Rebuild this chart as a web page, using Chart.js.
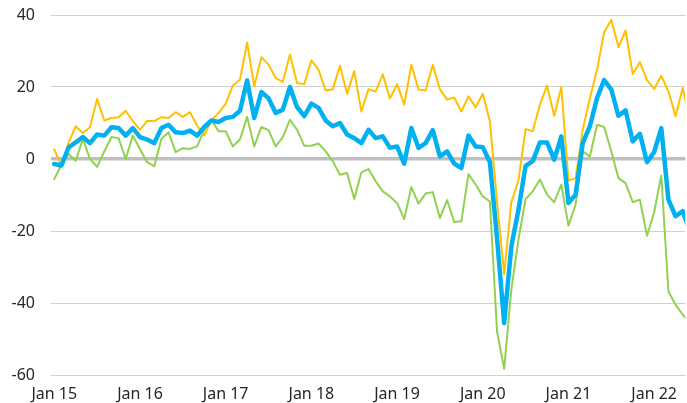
<!DOCTYPE html>
<html>
<head>
<meta charset="utf-8">
<script src="https://cdn.jsdelivr.net/npm/chart.js@4/dist/chart.umd.min.js"></script>
<style>
  html, body { margin: 0; padding: 0; background: #fff; }
  #wrap { width: 687px; height: 403px; }
</style>
</head>
<body>
<div id="wrap"><canvas id="line-chart" width="687" height="403"></canvas></div>
<script>
// monthly values, Jan 15 = month 0
const seriesGold = [
  2.7, -2, 4.5, 9.1, 7.2, 8.8, 16.7, 10.7, 11.4, 11.6, 13.4, 10.5,
  8.1, 10.6, 10.5, 11.6, 11.4, 13, 11.7, 13, 9.3, 6.5, 10.7, 12.8,
  15.3, 20.4, 22, 32.4, 20.2, 28.3, 26.2, 22.5, 21.4, 29, 21.1, 20.8,
  27.4, 24.8, 19, 19.4, 25.9, 18.1, 24.4, 13.2, 19.4, 18.7, 23.5, 16.8,
  20.8, 15.1, 26.2, 19.3, 19, 26.2, 19.4, 16.5, 17.1, 13.2, 17.4, 14.4,
  18.1, 10.5, -12, -32, -12, -5.9, 8.3, 7.7, 15.1, 20.4, 12, 20,
  -6, -5.3, 8.1, 16.9, 24.8, 35.2, 38.7, 31.1, 35.7, 23.6, 26.9, 21.9,
  19.5, 23.1, 18.8, 11.9, 19.7, 11
];
const seriesBlue = [
  -1.4, -1.8, 3.2, 4.6, 6.1, 4.4, 6.8, 6.5, 8.8, 8.6, 6.5, 8.6,
  6.1, 5.4, 4.4, 8.6, 9.5, 7.4, 7.2, 7.9, 6.5, 8.9, 10.7, 10.3,
  11.4, 11.7, 13.4, 21.8, 11.4, 18.6, 16.9, 12.8, 13.7, 20, 14.4, 11.9,
  15.4, 14.2, 10.7, 9.1, 10, 6.8, 5.8, 4.4, 8.1, 5.8, 6.3, 3.1,
  3.5, -1.3, 8.6, 3.1, 4.4, 8, 0.7, 2.1, -1.3, -2.5, 6.5, 3.5,
  3.3, -0.9, -22, -45.6, -24.3, -14.1, -1.9, -0.6, 4.6, 4.6, -0.2, 6.3,
  -12.2, -9.9, 4.4, 9.1, 16.9, 21.9, 19.3, 12, 13.5, 4.9, 7, -0.9,
  1.9, 8.6, -11.3, -15.9, -14.5, -20
];
const seriesGreen = [
  -5.6, -1.6, 1.4, -0.5, 5.6, 0, -2.2, 2.1, 6.1, 5.8, 0, 6.5,
  2.8, -0.9, -2, 5.6, 7.4, 1.9, 3, 2.8, 3.5, 8.1, 10.9, 7.7,
  7.7, 3.5, 5.4, 11.7, 3.5, 8.9, 8, 3.5, 6.1, 10.9, 8.1, 3.7,
  3.7, 4.3, 2.1, -0.6, -4.4, -3.9, -11.1, -3.7, -2.8, -6.2, -9, -10.4,
  -12.2, -16.7, -7.8, -12.4, -9.6, -9.2, -16.4, -11.4, -17.5, -17.3, -4.2, -7.1,
  -10.4, -11.8, -47.9, -58.3, -36.3, -22.4, -11.1, -9, -5.7, -9.9, -12, -7.1,
  -18.5, -12.7, 2.1, 0.7, 9.5, 8.9, 2.1, -5.3, -6.7, -12, -11.3, -21.3,
  -14.8, -4.6, -36.8, -40.5, -43.2, -45.5
];

// x axis tick labels (one per January)
const tickMonths = [0, 12, 24, 36, 48, 60, 72, 84];
const tickLabels = ['Jan 15', 'Jan 16', 'Jan 17', 'Jan 18', 'Jan 19', 'Jan 20', 'Jan 21', 'Jan 22'];

const toPoints = (arr) => arr.map((v, i) => ({ x: i, y: v }));

Chart.defaults.font.family = "'Noto Sans', 'Open Sans', sans-serif";
Chart.defaults.color = '#262626';

const ctx = document.getElementById('line-chart').getContext('2d');

const config = {
  type: 'line',
  data: {
    datasets: [
      { data: toPoints(seriesBlue), borderColor: '#00b0f0', borderWidth: 4.5, order: 0 },
      { data: toPoints(seriesGold), borderColor: '#ffc000', borderWidth: 2, order: 1 },
      { data: toPoints(seriesGreen), borderColor: '#92d050', borderWidth: 2, order: 2 },
    ],
  },
  options: {
    responsive: false,
    animation: false,
    parsing: false,
    layout: { padding: 0 },
    elements: {
      point: { radius: 0 },
      line: { tension: 0, borderJoinStyle: 'round', borderCapStyle: 'round' },
    },
    plugins: { legend: { display: false }, tooltip: { enabled: false } },
    scales: {
      x: {
        type: 'linear',
        min: -0.46,
        max: 88.37,
        grid: { display: false, drawTicks: false },
        border: { display: false },
        afterBuildTicks: (scale) => {
          scale.ticks = tickMonths.map((m) => ({ value: m }));
        },
        afterFit: (scale) => { scale.height = 28; },
        ticks: {
          maxRotation: 0,
          autoSkip: false,
          padding: 10,
          font: { size: 16 },
          callback: (value) => tickLabels[tickMonths.indexOf(value)],
        },
      },
      y: {
        min: -60,
        max: 40,
        afterFit: (scale) => {
          scale.width = 51;
          scale.paddingTop = 15;
          scale.paddingBottom = 0;
        },
        border: { display: false },
        grid: {
          drawTicks: false,
          color: (c) => (c.tick && c.tick.value === 0 ? '#bfbfbf' : '#d0d0d0'),
          lineWidth: (c) => (c.tick && c.tick.value === 0 ? 3.5 : 1),
        },
        ticks: { stepSize: 20, padding: 16, font: { size: 16 } },
      },
    },
  },
};

const lineChart = new Chart(ctx, config);
</script>
</body>
</html>
